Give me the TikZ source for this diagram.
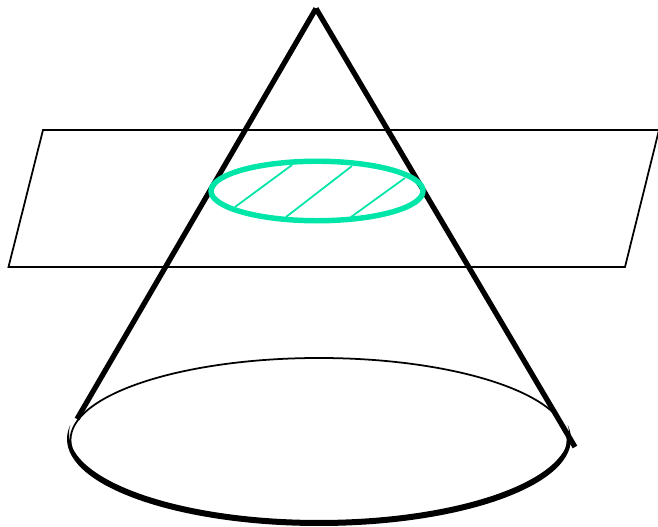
\documentclass[tikz,border=0pt]{standalone}
\definecolor{schnitt}{HTML}{00E5A8}
\begin{document}
\begin{tikzpicture}[line join=miter]
\useasboundingbox (0,0) rectangle (13.16,10.54);
% Punkte der Ebene
\coordinate (P1) at (0.86, 7.94);
\coordinate (P2) at (13.18, 7.94);
\coordinate (P3) at (12.50, 5.20);
\coordinate (P4) at (0.17, 5.20);
% Spitze und Fusspunkte des Kegels
\coordinate (S) at (6.32, 10.37);
\coordinate (L) at (1.54, 2.16);
\coordinate (R) at (11.50, 1.60);
% Ebene
\draw[line width=1pt] (P1) -- (P2) -- (P3) -- (P4) -- cycle;
% Mantellinien (einzeln, damit die Spitze eingekerbt bleibt)
\draw[line width=3pt] (L) -- (S);
\draw[line width=3pt] (R) -- (S);
% Grundkreis
\draw[line width=1pt] (6.38, 1.74) ellipse (4.97 and 1.64);
% untere Kante (dick, zu den Enden hin spitz)
\begin{scope}
\clip (0,0) rectangle (13.16,2.03);
\fill[even odd rule] (6.38, 1.76) ellipse (5.04 and 1.74)
                     (6.38, 1.87) ellipse (5.00 and 1.73);
\end{scope}
% Schraffur
\draw[schnitt,line width=1pt] (4.70, 6.40) -- (5.84, 7.24);
\draw[schnitt,line width=1pt] (5.72, 6.20) -- (7.04, 7.22);
\draw[schnitt,line width=1pt] (7.02, 6.20) -- (8.10, 6.98);
% Schnittellipse
\draw[schnitt,line width=3.1pt] (6.34, 6.72) ellipse (2.12 and 0.595);
\end{tikzpicture}
\end{document}
